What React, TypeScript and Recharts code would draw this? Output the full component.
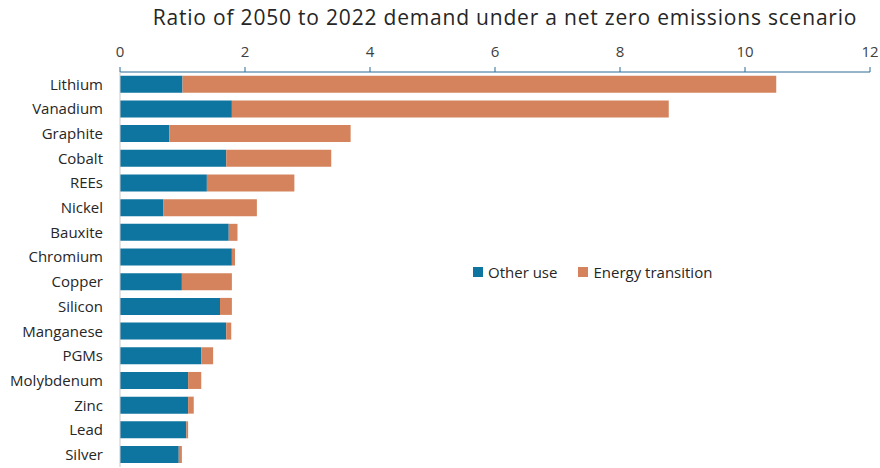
import { BarChart, Bar, XAxis, YAxis } from "recharts";

const minerals = [
  "Lithium",
  "Vanadium",
  "Graphite",
  "Cobalt",
  "REEs",
  "Nickel",
  "Bauxite",
  "Chromium",
  "Copper",
  "Silicon",
  "Manganese",
  "PGMs",
  "Molybdenum",
  "Zinc",
  "Lead",
  "Silver",
];
const otherUse = [1.0, 1.79, 0.79, 1.7, 1.39, 0.69, 1.74, 1.79, 0.99, 1.6, 1.7, 1.3, 1.09, 1.09, 1.06, 0.94];
const energyTransition = [9.5, 6.99, 2.9, 1.68, 1.4, 1.5, 0.14, 0.05, 0.8, 0.19, 0.08, 0.19, 0.21, 0.09, 0.03, 0.05];
const xTicks = [0, 2, 4, 6, 8, 10, 12];
const seriesNames = ["Other use", "Energy transition"];

const BLUE = "#0e75a1";
const ORANGE = "#d4835c";
const FONT = "'Open Sans', sans-serif";

const data = minerals.map((name, i) => ({
  name,
  other: otherUse[i],
  energy: energyTransition[i],
}));

// legend drawn as plain html so it doesn't shift the plot area
function LegendBox() {
  const colors = [BLUE, ORANGE];
  return (
    <div
      style={{
        position: "absolute",
        left: 473,
        top: 262,
        display: "flex",
        gap: 21,
        fontFamily: FONT,
        fontSize: 15,
        color: "#262626",
      }}
    >
      {seriesNames.map((n, i) => (
        <div key={n} style={{ display: "flex", alignItems: "center", gap: 5 }}>
          <span style={{ width: 10, height: 10, background: colors[i], display: "inline-block" }} />
          <span>{n}</span>
        </div>
      ))}
    </div>
  );
}

export default function App() {
  return (
    <div style={{ position: "absolute", left: 0, top: 0, width: 880, height: 468, background: "#fff" }}>
      <div
        style={{
          position: "absolute",
          top: 3,
          left: 0,
          width: 1010,
          textAlign: "center",
          fontFamily: FONT,
          fontSize: 21,
          letterSpacing: 0.8,
          color: "#262626",
          whiteSpace: "nowrap",
        }}
      >
        Ratio of 2050 to 2022 demand under a net zero emissions scenario
      </div>
      <BarChart
        width={880}
        height={468}
        data={data}
        layout="vertical"
        margin={{ top: 32, right: 10, left: 10, bottom: 1 }}
        barCategoryGap="15%"
      >
        <XAxis
          type="number"
          orientation="top"
          domain={[0, 12]}
          ticks={xTicks}
          height={40}
          interval={0}
          stroke="#2b6a94"
          tickSize={5}
          tickMargin={10}
          tick={{ fill: "#404040", fontSize: 15, fontFamily: FONT }}
        />
        <YAxis
          type="category"
          dataKey="name"
          width={110}
          interval={0}
          tickLine={false}
          tickSize={0}
          tickMargin={17}
          stroke="#c9c9c9"
          tick={{ fill: "#262626", fontSize: 15, fontFamily: FONT }}
        />
        <Bar dataKey="other" name={seriesNames[0]} stackId="a" fill={BLUE} isAnimationActive={false} />
        <Bar dataKey="energy" name={seriesNames[1]} stackId="a" fill={ORANGE} isAnimationActive={false} />
      </BarChart>
      <LegendBox />
    </div>
  );
}
